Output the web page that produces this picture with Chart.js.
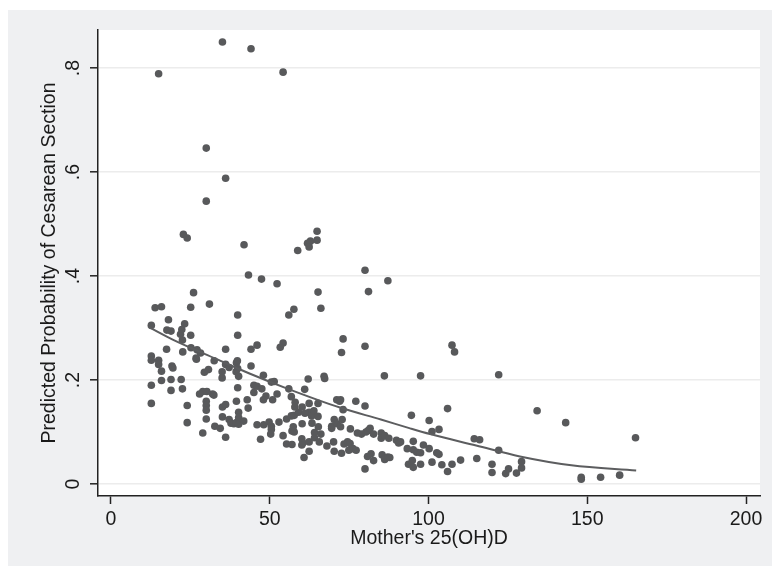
<!DOCTYPE html>
<html><head><meta charset="utf-8">
<script src="https://cdn.jsdelivr.net/npm/chart.js@4/dist/chart.umd.min.js"></script>
<style>html,body{margin:0;padding:0;background:#fff;}canvas{display:block;}</style>
</head><body>
<canvas id="c" width="772" height="566"></canvas>
<script>
// Observations: [Mother's 25(OH)D, predicted probability of cesarean section]
const observations = [
[15.0,0.789],[35.1,0.850],[44.1,0.837],[54.2,0.792],[30.0,0.646],[36.1,0.588],[30.0,0.544],
[22.8,0.480],[24.0,0.473],[41.9,0.460],
[58.8,0.449],[61.9,0.463],[62.8,0.467],[62.4,0.456],[64.9,0.469],[64.9,0.486],
[43.3,0.402],[47.4,0.394],[52.3,0.385],[80.0,0.411],[87.2,0.391],[81.1,0.370],[65.2,0.369],[26.0,0.368],
[31.0,0.346],[13.9,0.339],[15.9,0.341],[25.1,0.340],[57.6,0.336],[66.1,0.338],[56.0,0.325],[39.9,0.325],
[18.1,0.316],[12.7,0.305],[23.2,0.308],[18.9,0.294],[17.6,0.296],[22.3,0.297],[21.9,0.288],[25.1,0.286],[22.5,0.277],[39.9,0.286],
[73.1,0.279],[54.2,0.271],[53.3,0.263],[46.0,0.267],[44.1,0.259],[36.1,0.259],[17.5,0.259],[22.6,0.254],[25.2,0.262],[27.1,0.258],[26.8,0.242],
[72.6,0.253],[80.0,0.265],[107.4,0.267],[108.2,0.254],
[12.7,0.246],[12.7,0.238],[15.0,0.238],[15.0,0.230],[26.9,0.240],[28.2,0.252],[32.5,0.237],[39.8,0.237],[39.5,0.233],[36.1,0.230],[37.2,0.224],[35.0,0.216],[30.7,0.220],[29.4,0.215],[39.9,0.222],[39.4,0.216],[44.1,0.227],[40.2,0.207],[35.0,0.204],
[19.2,0.227],[19.5,0.223],[15.9,0.217],[15.9,0.199],[18.9,0.201],[22.1,0.201],[12.7,0.190],[18.9,0.180],[22.5,0.183],[12.7,0.155],[24.0,0.151],[24.0,0.118],[28.9,0.098],
[28.9,0.178],[27.9,0.173],[30.2,0.178],[32.0,0.173],[32.4,0.171],[30.0,0.159],[30.0,0.151],[30.0,0.142],[30.0,0.125],[32.7,0.111],[34.4,0.107],[36.1,0.090],
[35.1,0.148],[36.1,0.153],[35.1,0.129],[37.2,0.124],[37.8,0.117],[38.7,0.116],[39.5,0.118],[39.5,0.159],[40.2,0.138],[40.2,0.128],[40.2,0.115],[41.8,0.121],[39.9,0.185],[42.9,0.162],[43.2,0.146],
[45.0,0.190],[45.0,0.176],[46.0,0.188],[47.5,0.183],[48.0,0.209],[50.5,0.196],[51.4,0.197],[52.3,0.173],[48.8,0.169],[48.0,0.162],[50.9,0.162],
[46.0,0.114],[47.1,0.086],[48.1,0.114],[49.8,0.119],[50.5,0.111],[50.5,0.105],[50.3,0.096],[52.9,0.119],[54.2,0.093],[55.3,0.125],[56.0,0.183],[56.8,0.168],
[55.3,0.077],[57.0,0.076],[57.0,0.102],[57.7,0.100],[57.4,0.110],[56.8,0.131],[57.7,0.132],[57.9,0.148],[58.0,0.157],[59.1,0.138],[60.2,0.148],[60.2,0.116],[61.0,0.182],[62.1,0.202],
[60.1,0.087],[60.4,0.079],[60.8,0.051],[60.1,0.075],[62.4,0.081],[62.4,0.063],[62.4,0.138],[62.4,0.155],[63.2,0.131],[63.3,0.117],[64.1,0.099],[64.1,0.089],[63.9,0.141],[61.1,0.136],
[65.2,0.155],[65.2,0.130],[65.6,0.081],[66.1,0.096],[65.3,0.110],[67.1,0.207],[67.3,0.203],[68.0,0.073],
[69.5,0.111],[69.5,0.107],[70.3,0.124],[70.3,0.063],[70.1,0.081],[71.1,0.162],[72.0,0.159],[72.3,0.162],[71.2,0.116],[72.3,0.110],[72.8,0.124],[73.1,0.143],[72.6,0.059],[73.4,0.077],[74.5,0.081],[74.9,0.065],[75.3,0.078],[75.4,0.106],[76.2,0.068],[77.1,0.159],[77.2,0.065],[77.6,0.098],[78.9,0.096],
[80.0,0.150],[80.0,0.029],[80.3,0.100],[81.0,0.103],[81.6,0.107],[80.8,0.053],[81.9,0.058],[82.7,0.045],[82.7,0.096],[85.1,0.098],[86.1,0.208],[85.1,0.088],[86.2,0.093],[85.4,0.056],[86.2,0.047],[87.2,0.052],[87.5,0.088],[87.8,0.051],
[89.9,0.084],[90.6,0.079],[91.2,0.081],[93.3,0.068],[94.6,0.132],[95.2,0.082],[95.2,0.066],[93.7,0.038],[94.9,0.045],[95.2,0.032],[96.3,0.061],[97.5,0.208],[97.5,0.060],[97.5,0.038],[98.4,0.075],
[100.2,0.122],[100.2,0.068],[101.1,0.101],[101.1,0.042],[102.6,0.060],[103.3,0.105],[103.3,0.057],[104.2,0.037],[106.0,0.145],[106.0,0.024],[107.4,0.038],[110.1,0.046],
[114.4,0.087],[116.1,0.085],[115.2,0.049],[120.0,0.038],[120.0,0.022],[122.1,0.210],[122.1,0.065],[124.3,0.020],[125.2,0.029],[127.7,0.021],[129.3,0.043],[129.3,0.031],
[134.2,0.141],[143.2,0.118],[148.1,0.009],[148.1,0.013],[154.2,0.013],[160.2,0.017],[165.2,0.089]
];
// Fitted curve
const fitVitD = [12.1, 19.6, 33.3, 43.8, 55.3, 72.1, 85, 94.2, 100.5, 115, 128.8, 145, 165.4];
const fitProb = [0.301, 0.277, 0.240, 0.212, 0.184, 0.147, 0.124, 0.107, 0.096, 0.074, 0.053, 0.036, 0.026];

const xTicks = [0, 50, 100, 150, 200];
const xTickLabels = ['0', '50', '100', '150', '200'];
const yTicks = [0, 0.2, 0.4, 0.6, 0.8];
const yTickLabels = ['0', '.2', '.4', '.6', '.8'];
const xTitle = "Mother's 25(OH)D";
const yTitle = 'Predicted Probability of Cesarean Section';

const FONT = 'Liberation Sans, Arial, Helvetica, sans-serif';
const TEXT = '#1a1a1a';
const AXIS = '#222222';
const MARK = '#58595b';

const bgPlugin = {
  id: 'bg',
  beforeDraw(chart) {
    const {ctx, chartArea: a} = chart;
    ctx.save();
    ctx.fillStyle = '#ffffff';
    ctx.fillRect(0, 0, chart.width, chart.height);
    ctx.fillStyle = '#eff0f2';
    ctx.fillRect(8, 10, chart.width - 8, chart.height - 10);
    ctx.fillStyle = '#ffffff';
    ctx.fillRect(a.left, a.top, a.right - a.left, a.bottom - a.top);
    ctx.restore();
  }
};

new Chart(document.getElementById('c'), {
  type: 'scatter',
  data: {
    datasets: [
      {
        label: 'fit',
        data: fitVitD.map((x, i) => ({x, y: fitProb[i]})),
        showLine: true,
        borderColor: '#5c5d5f',
        borderWidth: 2,
        pointRadius: 0,
        cubicInterpolationMode: 'monotone',
        fill: false,
        order: 0
      },
      {
        label: 'obs',
        data: observations.map(p => ({x: p[0], y: p[1]})),
        backgroundColor: MARK,
        borderWidth: 0,
        pointRadius: 3.8,
        pointHoverRadius: 3.8,
        order: 1
      }
    ]
  },
  options: {
    responsive: false,
    animation: false,
    devicePixelRatio: 1,
    layout: {padding: {left: 0, top: 30, right: 12, bottom: 0}},
    plugins: {legend: {display: false}, tooltip: {enabled: false}},
    scales: {
      x: {
        type: 'linear',
        min: -4.094,
        max: 204.4,
        afterBuildTicks: s => { s.ticks = xTicks.map(v => ({value: v})); },
        afterFit: s => { s.height = 70; },
        ticks: {
          callback: (v) => xTickLabels[xTicks.indexOf(v)] ?? '',
          font: {family: FONT, size: 19.5},
          color: TEXT,
          padding: 4,
          maxRotation: 0,
          autoSkip: false
        },
        grid: {drawOnChartArea: false, drawTicks: true, tickLength: 8, tickColor: AXIS, tickWidth: 1.5},
        border: {display: true, color: AXIS, width: 1.5},
        title: {display: true, text: xTitle, font: {family: FONT, size: 19.5}, color: TEXT, padding: {top: 0, bottom: 16}}
      },
      y: {
        type: 'linear',
        min: -0.02308,
        max: 0.8731,
        afterBuildTicks: s => { s.ticks = yTicks.map(v => ({value: v})); },
        afterFit: s => { s.width = 98; },
        ticks: {
          callback: (v) => { const i = yTicks.findIndex(t => Math.abs(t - v) < 1e-9); return i >= 0 ? yTickLabels[i] : ''; },
          font: {family: FONT, size: 19.5},
          color: TEXT,
          padding: 8,
          minRotation: 90,
          maxRotation: 90,
          crossAlign: 'center',
          autoSkip: false
        },
        grid: {color: '#ececec', lineWidth: 1.6, drawTicks: true, tickLength: 8, tickColor: AXIS, tickWidth: 1.5},
        border: {display: true, color: AXIS, width: 1.5},
        title: {display: true, text: yTitle, font: {family: FONT, size: 19.5}, color: TEXT, padding: {top: 38.3, bottom: 0}}
      }
    }
  },
  plugins: [bgPlugin]
});
</script>
</body></html>
